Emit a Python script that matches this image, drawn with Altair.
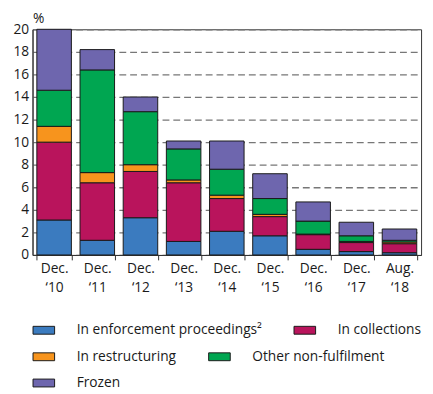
import altair as alt
import pandas as pd

categories = ["Dec. ‘10", "Dec. ‘11", "Dec. ‘12", "Dec. ‘13", "Dec. ‘14",
              "Dec. ‘15", "Dec. ‘16", "Dec. ‘17", "Aug. ‘18"]
series_names = ["In enforcement proceedings²", "In collections", "In restructuring",
                "Other non-fulfilment", "Frozen"]
enforcement = [3.1, 1.3, 3.3, 1.2, 2.1, 1.7, 0.5, 0.3, 0.2]
collections = [6.9, 5.1, 4.1, 5.2, 2.9, 1.7, 1.3, 0.8, 0.8]
restructuring = [1.4, 0.9, 0.6, 0.25, 0.3, 0.2, 0.05, 0.1, 0.15]
other = [3.2, 9.1, 4.7, 2.75, 2.3, 1.4, 1.15, 0.5, 0.15]
frozen = [5.4, 1.8, 1.3, 0.7, 2.5, 2.2, 1.7, 1.2, 1.0]
colors = ["#3b7bbf", "#b9145c", "#f7941d", "#00a651", "#6e66ae"]
legend_rows = [[0, 1], [2, 3], [4]]

rows = []
for s_i, (name, vals) in enumerate(zip(series_names,
                                       [enforcement, collections, restructuring, other, frozen])):
    for c, v in zip(categories, vals):
        rows.append({"cat": c, "series": name, "value": v, "order": s_i})
df = pd.DataFrame(rows)

FONT = "Open Sans"
W, H = 396, 230

x_enc = alt.X("cat:N", sort=categories,
              scale=alt.Scale(paddingInner=0.2, paddingOuter=0.1),
              axis=alt.Axis(title=None, labelAngle=0, labelExpr="split(datum.label, ' ')",
                            labelLineHeight=19, tickBand="extent", tickSize=5,
                            tickColor="#333", domainColor="#333", labelPadding=2,
                            labelFontSize=14, labelFont=FONT, labelColor="#1a1a1a",
                            labelBaseline="top", grid=False))
y_enc = alt.Y("y0:Q", scale=alt.Scale(domain=[0, 20], nice=False),
              axis=alt.Axis(title="%", titleAngle=0, titleX=0, titleY=-7, titleAlign="left",
                            titleBaseline="alphabetic", titleFont=FONT, titleFontSize=14,
                            titleFontWeight="normal", titleColor="#1a1a1a",
                            values=list(range(0, 21, 2)), grid=True, gridDash=[7, 4],
                            gridColor="#777", gridWidth=1.3, tickSize=0, labelPadding=4,
                            domainColor="#333", labelFontSize=14, labelFont=FONT,
                            labelColor="#1a1a1a"))

base = alt.Chart(df).transform_stack(
    stack="value", groupby=["cat"], as_=["y0", "y1"],
    sort=[alt.SortField("order", order="ascending")],
)

layers = []
for r_i, idx in enumerate(legend_rows):
    names = [series_names[i] for i in idx]
    cols = [colors[i] for i in idx]
    layer = base.transform_filter(
        alt.FieldOneOfPredicate(field="series", oneOf=names)
    ).mark_bar(stroke="#1a1a1a", strokeWidth=1).encode(
        x=x_enc,
        y=y_enc,
        y2="y1:Q",
        color=alt.Color("series:N", sort=names,
                        scale=alt.Scale(domain=names, range=cols),
                        legend=alt.Legend(title=None, orient="none", legendX=0,
                                          legendY=295 + 27 * r_i, direction="horizontal",
                                          columnPadding=30, labelFontSize=14, labelFont=FONT,
                                          labelColor="#1a1a1a", labelOffset=22, labelLimit=400,
                                          symbolType="M-1,-0.364L1,-0.364L1,0.364L-1,0.364Z",
                                          symbolSize=484, symbolStrokeColor="#1a1a1a",
                                          symbolStrokeWidth=1, symbolOpacity=1)),
    )
    layers.append(layer)

chart = alt.layer(*layers).resolve_scale(color="independent").properties(
    width=W, height=H, autosize=alt.AutoSizeParams(type="none"),
    padding={"left": 25, "top": 18, "right": 4, "bottom": 138},
).configure_view(stroke="#333", strokeWidth=1)

chart.save("out.html", embed_options={"renderer": "svg", "actions": False})
